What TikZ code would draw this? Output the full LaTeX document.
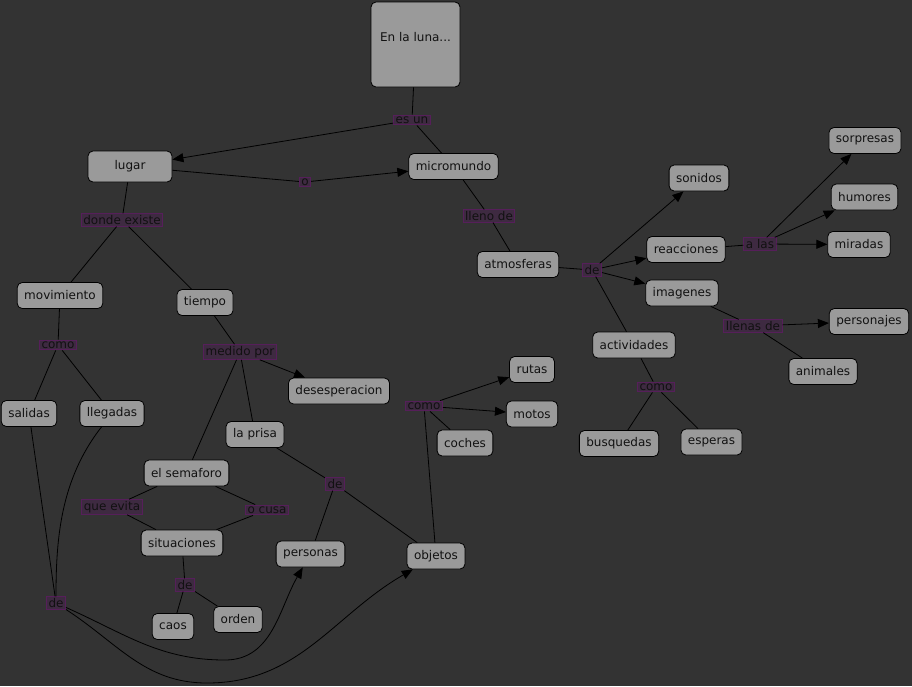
\documentclass[tikz,border=0pt]{standalone}
\usepackage{fontspec}
\setmainfont{DejaVu Sans}
\usetikzlibrary{arrows.meta}
\definecolor{bg}{HTML}{333333}
\definecolor{nodefill}{HTML}{9A9A9A}
\definecolor{linkfill}{HTML}{3E2A41}
\definecolor{linkdraw}{HTML}{561F5A}
\definecolor{txt}{HTML}{111111}
\begin{document}
\begin{tikzpicture}[x=1pt,y=-1pt,
  every node/.style={font=\fontsize{12}{14}\selectfont, text=txt},
  concept/.style={draw=black, line width=0.8pt, fill=nodefill, rounded corners=5pt, inner xsep=7pt, minimum height=26pt},
  linkp/.style={draw=linkdraw, line width=1pt, fill=linkfill, inner xsep=2pt, inner ysep=1.5pt},
  conn/.style={draw=black, line width=0.8pt},
  arr/.style={conn, -{Triangle[length=11pt,width=9pt]}}]
\fill[bg] (0,0) rectangle (912,686);
\useasboundingbox (0,0) rectangle (912,686);
% concepts
\node[concept, minimum width=89pt, minimum height=85pt, text depth=16pt] (luna) at (415.5,44.5) {En la luna...};
\node[concept, minimum width=84pt, minimum height=31pt] (lugar) at (130,166.5) {lugar};
\node[concept] (micro) at (453.5,166.5) {micromundo};
\node[concept] (atmos) at (518,264.5) {atmosferas};
\node[concept] (sonidos) at (699,178) {sonidos};
\node[concept] (reacc) at (686,249.5) {reacciones};
\node[concept] (sorp) at (865,140.5) {sorpresas};
\node[concept] (humores) at (864.5,197) {humores};
\node[concept] (miradas) at (859,244.5) {miradas};
\node[concept] (imag) at (682,293) {imagenes};
\node[concept] (perso) at (869,321.5) {personajes};
\node[concept] (anim) at (823,371.5) {animales};
\node[concept] (activ) at (634,345) {actividades};
\node[concept] (busq) at (619,443.5) {busquedas};
\node[concept] (esperas) at (711.5,442) {esperas};
\node[concept] (movim) at (60,295.5) {movimiento};
\node[concept] (tiempo) at (205,302.5) {tiempo};
\node[concept] (salidas) at (29,413.5) {salidas};
\node[concept] (llegadas) at (112,413.5) {llegadas};
\node[concept] (deses) at (339,391) {desesperacion};
\node[concept] (prisa) at (255,434.5) {la prisa};
\node[concept] (semaforo) at (186.5,473) {el semaforo};
\node[concept] (situac) at (182,543) {situaciones};
\node[concept] (caos) at (173,626.5) {caos};
\node[concept] (orden) at (238,619.5) {orden};
\node[concept] (personas) at (310.5,554) {personas};
\node[concept] (objetos) at (436,556) {objetos};
\node[concept] (rutas) at (532,369.5) {rutas};
\node[concept] (motos) at (532,414) {motos};
\node[concept] (coches) at (465,443) {coches};
% linking phrases
\node[linkp] (esun) at (412,120) {es un};
\node[linkp] (o) at (305,182) {o};
\node[linkp] (lleno) at (489,216) {lleno de};
\node[linkp] (deR) at (592,270) {de};
\node[linkp] (alas) at (760,244) {a las};
\node[linkp] (llenas) at (753,326) {llenas de};
\node[linkp] (comoR) at (656,387) {como};
\node[linkp] (donde) at (122,220) {donde existe};
\node[linkp] (comoL) at (58,345) {como};
\node[linkp] (medido) at (240,352) {medido por};
\node[linkp] (evita) at (112,507) {que evita};
\node[linkp] (ocusa) at (267,510) {o cusa};
\node[linkp] (deS) at (185,585) {de};
\node[linkp] (deL) at (56,603) {de};
\node[linkp] (deM) at (335,484) {de};
\node[linkp] (comoM) at (424,406) {como};
% connectors
\draw[conn] (luna) -- (esun);
\draw[arr] (esun) -- (lugar);
\draw[conn] (esun) -- (micro);
\draw[conn] (lugar) -- (o);
\draw[arr] (o) -- (micro);
\draw[conn] (micro) -- (lleno);
\draw[conn] (lleno) -- (atmos);
\draw[conn] (atmos) -- (deR);
\draw[arr] (deR) -- (sonidos);
\draw[arr] (deR) -- (reacc);
\draw[arr] (deR) -- (imag);
\draw[conn] (deR) -- (activ);
\draw[conn] (reacc) -- (alas);
\draw[arr] (alas) -- (sorp);
\draw[arr] (alas) -- (humores);
\draw[arr] (alas) -- (miradas);
\draw[conn] (imag) -- (llenas);
\draw[arr] (llenas) -- (perso);
\draw[conn] (llenas) -- (anim);
\draw[conn] (activ) -- (comoR);
\draw[conn] (comoR) -- (busq);
\draw[conn] (comoR) -- (esperas);
\draw[conn] (lugar) -- (donde);
\draw[conn] (donde) -- (movim);
\draw[conn] (donde) -- (tiempo);
\draw[conn] (movim) -- (comoL);
\draw[conn] (comoL) -- (salidas);
\draw[conn] (comoL) -- (llegadas);
\draw[conn] (tiempo) -- (medido);
\draw[arr] (medido) -- (deses);
\draw[conn] (medido) -- (prisa);
\draw[conn] (medido) -- (semaforo);
\draw[conn] (semaforo) -- (evita);
\draw[conn] (evita) -- (situac);
\draw[conn] (semaforo) -- (ocusa);
\draw[conn] (ocusa) -- (situac);
\draw[conn] (situac) -- (deS);
\draw[conn] (deS) -- (caos);
\draw[conn] (deS) -- (orden);
\draw[conn] (salidas) -- (deL);
\draw[conn] (llegadas) .. controls (60,480) and (56,540) .. (deL);
\draw[arr] (deL) to[out=-24,in=180] (225,660) to[out=0,in=-120] (personas);
\draw[arr] (deL) to[out=-33,in=180] (207,683) to[out=0,in=-150] (objetos);
\draw[conn] (prisa) -- (deM);
\draw[conn] (deM) -- (personas);
\draw[conn] (deM) -- (objetos);
\draw[conn] (objetos) -- (comoM);
\draw[arr] (comoM) -- (rutas);
\draw[arr] (comoM) -- (motos);
\draw[conn] (comoM) -- (coches);
\end{tikzpicture}
\end{document}
